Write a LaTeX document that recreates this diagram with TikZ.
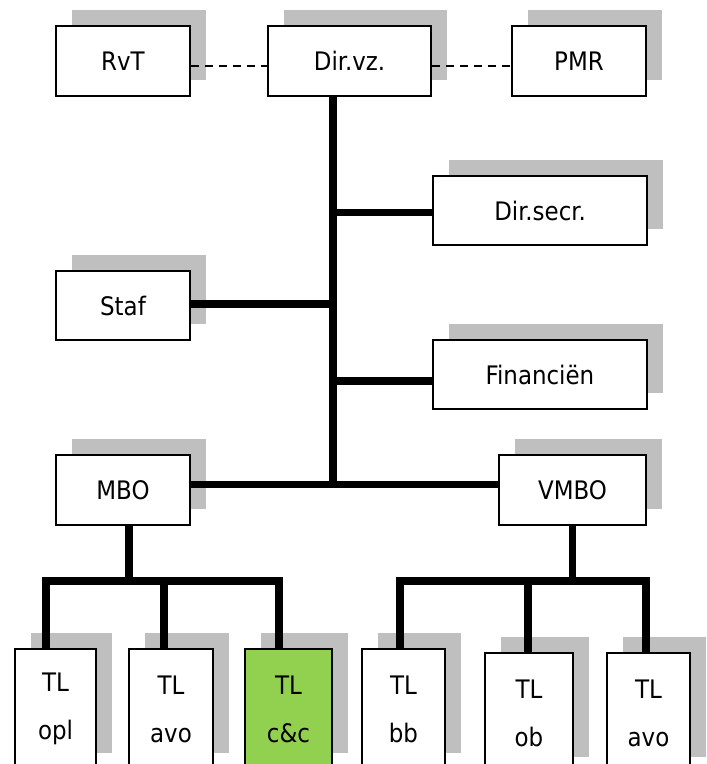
\documentclass[tikz,border=0pt]{standalone}
\usepackage{fontspec}
\setmainfont{DejaVu Sans Condensed}
\usetikzlibrary{shadows}
\definecolor{ccgroen}{HTML}{92D050}
\definecolor{schaduw}{HTML}{BFBFBF}
\begin{document}
\begin{tikzpicture}[x=1pt,y=-1pt,
  box/.style={draw,line width=2pt,fill=white,inner sep=0pt,align=center,
    font=\fontsize{25.5}{48}\selectfont,minimum height=70pt,
    drop shadow={shadow xshift=16pt,shadow yshift=16pt,fill=schaduw,opacity=1}},
  tl/.style={box,minimum height=120pt},
  verb/.style={line width=7.5pt},
  stip/.style={line width=2pt,dash pattern=on 8pt off 6pt}]
\useasboundingbox (0,0) rectangle (707,764);
\clip (0,0) rectangle (707,764);
\node[box,minimum width=134pt] (rvt) at (123,61){RvT};
\node[box,minimum width=163pt] (dirvz) at (349.5,61){Dir.vz.};
\node[box,minimum width=134pt] (pmr) at (579,61){PMR};
\node[box,minimum width=214pt,minimum height=69pt] (dirsecr) at (540,210.5){Dir.secr.};
\node[box,minimum width=134pt,minimum height=69pt] (staf) at (123,305.5){Staf};
\node[box,minimum width=214pt,minimum height=69pt] (fin) at (540,374.5){Financiën};
\node[box,minimum width=134pt] (mbo) at (123,490){MBO};
\node[box,minimum width=147pt] (vmbo) at (572.5,490){VMBO};
\node[tl,minimum width=81pt] (opl) at (55.5,709){TL\\opl};
\node[tl,minimum width=84pt] (avo) at (171,709){TL\\avo};
\node[tl,minimum width=87pt,fill=ccgroen] (ccc) at (288.5,709){TL\\c\&c};
\node[tl,minimum width=83pt] (bb) at (403.5,709){TL\\bb};
\node[tl,minimum width=88pt] (ob) at (529,713){TL\\ob};
\node[tl,minimum width=83pt] (avob) at (648.5,713){TL\\avo};

\draw[stip]([yshift=-4.7pt]rvt.east)--([yshift=-4.7pt]dirvz.west);
\draw[stip]([yshift=-4.7pt]dirvz.east)--([yshift=-4.7pt]pmr.west);

\coordinate (knoop) at (333,484.5);
\draw[verb](dirvz.south -| knoop)--(knoop);
\draw[verb]([yshift=1.5pt]staf.east)--([yshift=1.5pt]staf.east -| knoop);
\draw[verb]([yshift=-2pt]dirsecr.west)--([yshift=-2pt]dirsecr.west -| knoop);
\draw[verb]([yshift=-6.5pt]fin.west)--([yshift=-6.5pt]fin.west -| knoop);
\draw[verb]([yshift=5.5pt]mbo.east)--([yshift=5.5pt]vmbo.west);

\coordinate (mbar) at (129,581);
\draw[verb]([xshift=6pt]mbo.south)--(mbar);
\draw[verb]([xshift=-9.5pt]opl.north)|-(mbar)-|([xshift=-9.5pt]ccc.north);
\draw[verb]([xshift=-7pt]avo.north)--([xshift=-7pt]avo.north |- mbar);

\coordinate (vbar) at (572.5,581);
\draw[verb](vmbo.south)--(vbar);
\draw[verb]([xshift=-3.5pt]bb.north)|-(vbar)-|([xshift=-2.5pt]avob.north);
\draw[verb]([xshift=-1pt]ob.north)--([xshift=-1pt]ob.north |- vbar);
\end{tikzpicture}
\end{document}
